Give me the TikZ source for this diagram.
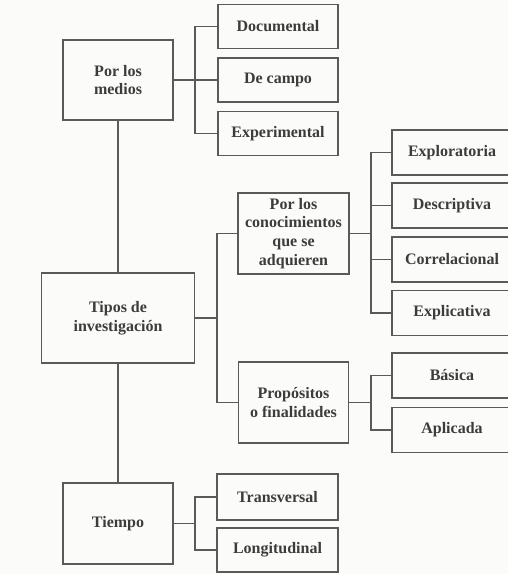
\documentclass[tikz,border=0pt]{standalone}
\usepackage{fontspec}
\setmainfont{Liberation Serif}
\definecolor{txt}{HTML}{3C3C3C}
\definecolor{ln}{HTML}{5A5A5A}
\definecolor{bg}{HTML}{FBFBF9}
\begin{document}
\begin{tikzpicture}[x=1pt,y=-1pt,
  box/.style={draw=ln,line width=1.5pt,fill=bg,text=txt,align=center,inner sep=2pt,
    font=\fontsize{16}{18.8}\selectfont\bfseries},
  conn/.style={draw=ln,line width=1.5pt}]
\useasboundingbox[fill=bg] (0,0) rectangle (508,574);
% left column
\node[box,minimum width=110pt,minimum height=80pt] (medios) at (118,80) {Por los\\medios};
\node[box,minimum width=153pt,minimum height=90pt] (tipos) at (118,318) {Tipos de\\investigación};
\node[box,minimum width=110pt,minimum height=81pt] (tiempo) at (118,523.5) {Tiempo};
% medios children
\node[box,minimum width=120pt,minimum height=44pt] (doc) at (278,26.5) {Documental};
\node[box,minimum width=120pt,minimum height=44pt] (campo) at (278,80) {De campo};
\node[box,minimum width=120pt,minimum height=44pt] (exper) at (278,133.5) {Experimental};
% tipos children
\node[box,minimum width=111pt,minimum height=81pt] (conoc) at (293.5,233.5) {Por los\\conocimientos\\que se\\adquieren};
\node[box,minimum width=110pt,minimum height=81pt] (prop) at (293.5,402.5) {Propósitos\\o finalidades};
% conoc children
\node[box,minimum width=120pt,minimum height=45pt] (explor) at (452,152.5) {Exploratoria};
\node[box,minimum width=120pt,minimum height=45pt] (desc) at (452,205.5) {Descriptiva};
\node[box,minimum width=120pt,minimum height=45pt] (corr) at (452,259.5) {Correlacional};
\node[box,minimum width=120pt,minimum height=45pt] (expl) at (452,313) {Explicativa};
% prop children
\node[box,minimum width=120pt,minimum height=45pt] (basica) at (452,375.5) {Básica};
\node[box,minimum width=120pt,minimum height=45pt] (aplic) at (452,430) {Aplicada};
% tiempo children
\node[box,minimum width=121pt,minimum height=46pt] (trans) at (277.5,497) {Transversal};
\node[box,minimum width=121pt,minimum height=44pt] (longi) at (277.5,550) {Longitudinal};
% trunk
\draw[conn] (medios.south) -- (tipos.north);
\draw[conn] (tipos.south) -- (tiempo.north);
% buses
\coordinate (b1) at (195,80);
\draw[conn] (medios.east) -- (b1);
\draw[conn] (doc.west) -| (b1) |- (exper.west);
\draw[conn] (campo.west) -- (b1);
\coordinate (b2) at (217,318);
\draw[conn] (tipos.east) -- (b2);
\draw[conn] (conoc.west) -| (b2) |- (prop.west);
\coordinate (b3) at (371,233.5);
\draw[conn] (conoc.east) -- (b3);
\draw[conn] (explor.west) -| (b3) |- (expl.west);
\draw[conn] (desc.west) -- (desc.west -| b3);
\draw[conn] (corr.west) -- (corr.west -| b3);
\coordinate (b4) at (371,402.5);
\draw[conn] (prop.east) -- (b4);
\draw[conn] (basica.west) -| (b4) |- (aplic.west);
\coordinate (b5) at (195,523.5);
\draw[conn] (tiempo.east) -- (b5);
\draw[conn] (trans.west) -| (b5) |- (longi.west);
\end{tikzpicture}
\end{document}
